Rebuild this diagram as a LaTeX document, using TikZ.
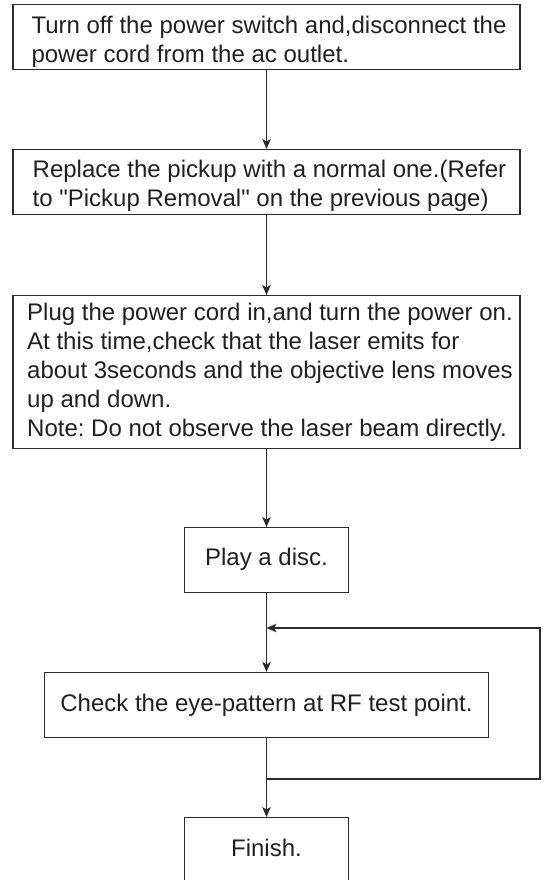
\documentclass[tikz,border=0pt]{standalone}
\usepackage{fontspec}
\setmainfont{Liberation Sans}[Ligatures=TeXOff]
\frenchspacing
\usetikzlibrary{arrows.meta}
\definecolor{lncol}{HTML}{2B2B2B}
\definecolor{txcol}{HTML}{231F20}
\begin{document}
\begin{tikzpicture}[x=1pt,y=-1pt,
  box/.style={draw=lncol, line width=1.2pt, text=txcol, inner xsep=0pt, inner ysep=0pt,
    anchor=north, font=\fontsize{24}{29}\selectfont\frenchspacing},
  wide/.style={box, minimum width=507pt},
  small/.style={box, minimum width=164pt, text height=38pt, text depth=27pt},
  arr/.style={draw=lncol, line width=1.2pt, -{Stealth[length=10pt,width=8.5pt,inset=2.5pt]}},
  conn/.style={draw=lncol, line width=1.2pt}]
\useasboundingbox (0,0) rectangle (543,880);
\node[wide, text height=29pt, text depth=36pt] (b1) at (266.5,4)
  {\kern5pt\vtop{\hbox{Turn off the power switch and,disconnect the}\hbox{power cord from the ac outlet.}}};
\node[wide, text height=28pt, text depth=37pt] (b2) at (266.5,149)
  {\kern6pt\vtop{\hbox{Replace the pickup with a normal one.(Refer}\hbox{to "Pickup Removal" on the previous page)}}};
\node[wide, text height=25pt, text depth=128pt] (b3) at (266.5,295)
  {\kern7pt\vtop{\hbox{Plug the power cord in,and turn the power on.}\hbox{At this time,check that the laser emits for}\hbox{about 3seconds and the objective lens moves}\hbox{up and down.}\hbox{Note: Do not observe the laser beam directly.}}};
\node[small] (b4) at (266.5,527) {Play a disc.};
\node[box, minimum width=444pt, text height=39pt, text depth=26pt] (b5) at (266.5,672)
  {Check the eye-pattern at RF test point.};
\node[small, text height=39pt, text depth=26pt] (b6) at (266.5,817) {Finish.};
\coordinate (j1) at (266.5,628);
\coordinate (j2) at (266.5,779);
\coordinate (rr) at (540,779);
\draw[arr] (b1) -- (b2);
\draw[arr] (b2) -- (b3);
\draw[arr] (b3) -- (b4);
\draw[arr] (b4) -- (b5);
\draw[conn] (b5) -- (j2);
\draw[arr] (j2) -- (b6);
\draw[arr] (j2) -- (rr) |- (j1);
\end{tikzpicture}
\end{document}
